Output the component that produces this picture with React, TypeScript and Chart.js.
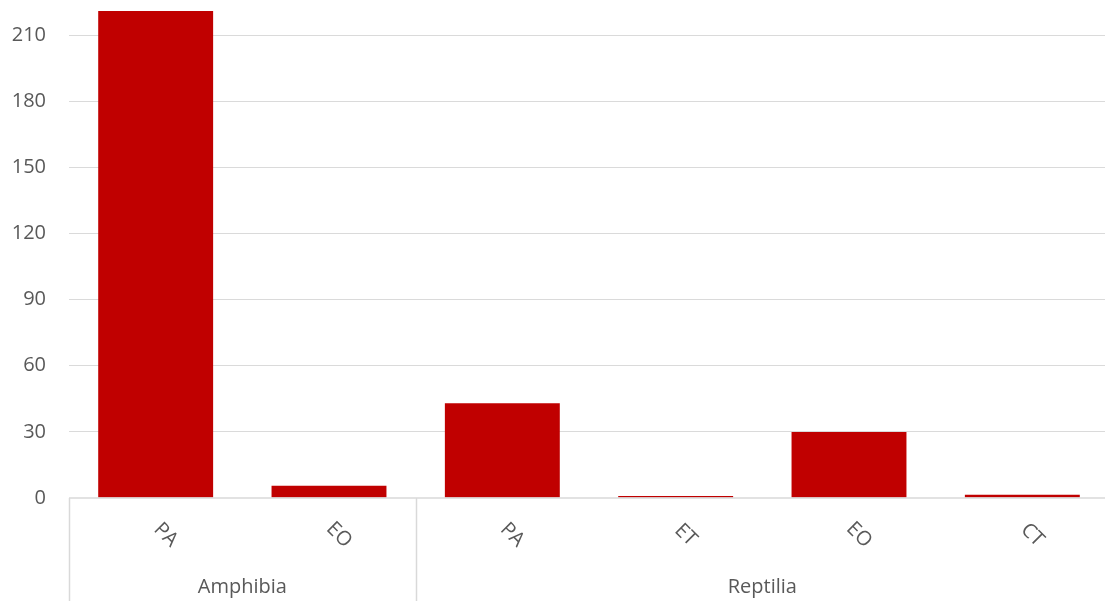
import React, { useEffect, useRef } from "react";
import { Chart, registerables } from "chart.js";

Chart.register(...registerables);

// Category labels along the x axis, the groups they belong to, and the counts.
const categories = ["PA", "EO", "PA", "ET", "EO", "CT"];
const groupNames = ["Amphibia", "Reptilia"];
const groupSizes = [2, 4];
const counts = [221, 5.6, 43, 0.9, 30, 1.5];
const yTicks = [0, 30, 60, 90, 120, 150, 180, 210];

const TEXT_COLOR = "#595959";
const FONT_FAMILY = "'Open Sans', sans-serif";
const LINE_COLOR = "#d9d9d9";

// Draws the rotated category labels, the group names and the group separators
// underneath the plot area.
const groupedAxisPlugin = {
  id: "groupedAxis",
  afterDraw(chart: any) {
    const { ctx, chartArea, scales } = chart;
    const x = scales.x;
    const bottom = chart.height;
    const step = x.getPixelForValue(1) - x.getPixelForValue(0);
    ctx.save();

    // zero line
    ctx.strokeStyle = LINE_COLOR;
    ctx.lineWidth = 1.5;
    ctx.beginPath();
    ctx.moveTo(chartArea.left, chartArea.bottom);
    ctx.lineTo(chartArea.right, chartArea.bottom);
    ctx.stroke();

    // separators between groups
    let idx = 0;
    const bounds: number[] = [idx];
    groupSizes.forEach((n) => {
      idx += n;
      bounds.push(idx);
    });
    bounds.forEach((b) => {
      const px = Math.round(x.getPixelForValue(0) - step / 2 + b * step) + 0.5;
      ctx.beginPath();
      ctx.moveTo(px, chartArea.bottom);
      ctx.lineTo(px, bottom);
      ctx.stroke();
    });

    // rotated category labels
    ctx.fillStyle = TEXT_COLOR;
    ctx.font = `20px ${FONT_FAMILY}`;
    ctx.textAlign = "center";
    ctx.textBaseline = "middle";
    categories.forEach((label, i) => {
      const cx = x.getPixelForValue(i);
      ctx.save();
      ctx.translate(cx + 10, chartArea.bottom + 37);
      ctx.rotate(Math.PI / 4);
      ctx.fillText(label, 0, 0);
      ctx.restore();
    });

    // group names
    ctx.textBaseline = "alphabetic";
    let start = 0;
    groupNames.forEach((name, g) => {
      const end = start + groupSizes[g];
      const left = x.getPixelForValue(start) - step / 2;
      const right = x.getPixelForValue(end - 1) + step / 2;
      ctx.fillText(name, (left + right) / 2, chartArea.bottom + 95);
      start = end;
    });

    ctx.restore();
  },
};

export default function App() {
  const canvasRef = useRef<HTMLCanvasElement | null>(null);

  useEffect(() => {
    const canvas = canvasRef.current;
    if (!canvas) return;
    const chart = new Chart(canvas, {
      type: "bar",
      data: {
        labels: categories,
        datasets: [
          {
            data: counts,
            backgroundColor: "#C00000",
            borderWidth: 0,
            categoryPercentage: 1,
            barPercentage: 0.663,
          },
        ],
      },
      options: {
        responsive: false,
        animation: false,
        layout: { padding: { top: 11, right: 1, left: 0, bottom: 0 } },
        plugins: {
          legend: { display: false },
          tooltip: { enabled: false },
        },
        scales: {
          x: {
            grid: { display: false },
            border: { display: false },
            ticks: { display: false },
            afterFit(scale: any) {
              scale.height = 103;
              scale.paddingLeft = 0;
              scale.paddingRight = 0;
            },
          },
          y: {
            min: 0,
            max: 221,
            afterBuildTicks(scale: any) {
              scale.ticks = yTicks.map((v) => ({ value: v }));
            },
            afterFit(scale: any) {
              scale.width = 69;
              scale.paddingTop = 0;
              scale.paddingBottom = 0;
            },
            border: { display: false },
            grid: {
              drawTicks: false,
              color: (c: any) => (c.tick && c.tick.value === 0 ? "rgba(0,0,0,0)" : "#dadada"),
              lineWidth: 1,
            },
            ticks: {
              padding: 23,
              color: TEXT_COLOR,
              font: { family: "'Open Sans', sans-serif", size: 20 },
            },
          },
        },
      },
      plugins: [groupedAxisPlugin],
    });
    return () => chart.destroy();
  }, []);

  return (
    <div
      style={{
        position: "fixed",
        left: 0,
        top: 0,
        width: 1105,
        height: 601,
        overflow: "hidden",
        background: "#ffffff",
      }}
    >
      <canvas ref={canvasRef} width={1110} height={601} style={{ display: "block" }} />
    </div>
  );
}
